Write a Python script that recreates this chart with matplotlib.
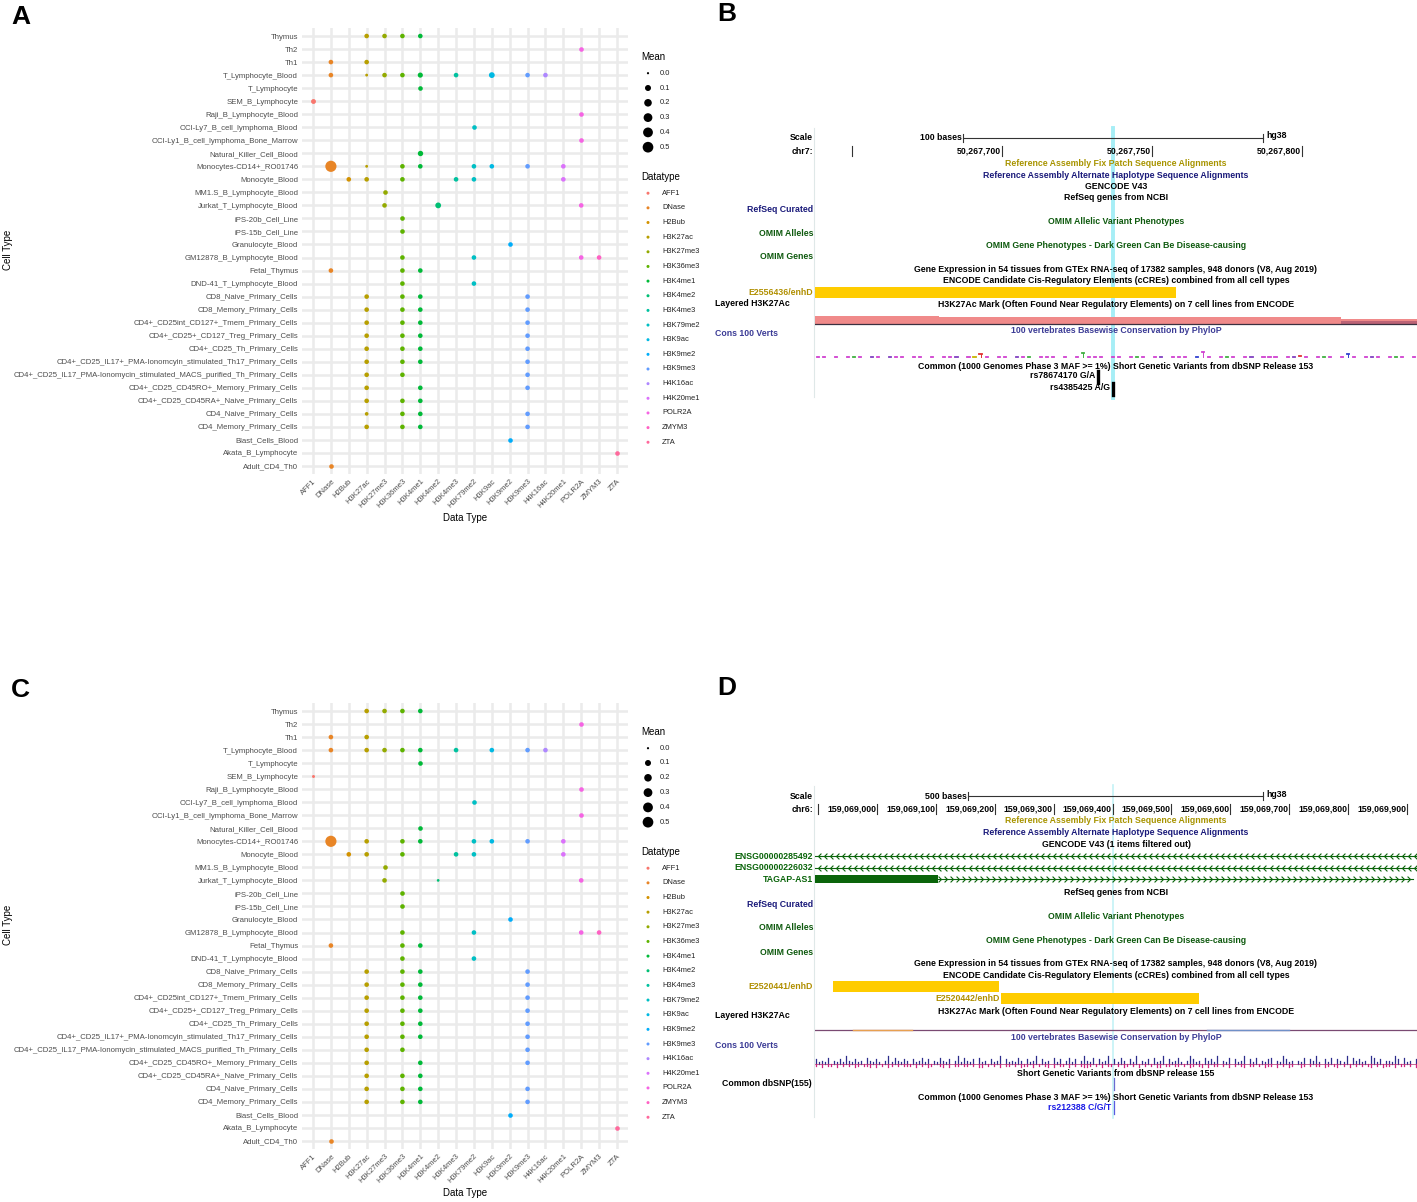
import numpy as np
import matplotlib.pyplot as plt
from matplotlib.path import Path

W, H = 1417, 1202
plt.rcParams['font.family'] = ['Liberation Sans', 'DejaVu Sans']

# ---------------- dot plot data (panels A and C) ----------------
data_types = ["AFF1", "DNase", "H2Bub", "H3K27ac", "H3K27me3", "H3K36me3", "H3K4me1",
              "H3K4me2", "H3K4me3", "H3K79me2", "H3K9ac", "H3K9me2", "H3K9me3",
              "H4K16ac", "H4K20me1", "POLR2A", "ZMYM3", "ZTA"]

cell_types = ["Thymus", "Th2", "Th1", "T_Lymphocyte_Blood", "T_Lymphocyte", "SEM_B_Lymphocyte",
              "Raji_B_Lymphocyte_Blood", "OCI-Ly7_B_cell_lymphoma_Blood",
              "OCI-Ly1_B_cell_lymphoma_Bone_Marrow", "Natural_Killer_Cell_Blood",
              "Monocytes-CD14+_RO01746", "Monocyte_Blood", "MM1.S_B_Lymphocyte_Blood",
              "Jurkat_T_Lymphocyte_Blood", "iPS-20b_Cell_Line", "iPS-15b_Cell_Line",
              "Granulocyte_Blood", "GM12878_B_Lymphocyte_Blood", "Fetal_Thymus",
              "DND-41_T_Lymphocyte_Blood", "CD8_Naive_Primary_Cells", "CD8_Memory_Primary_Cells",
              "CD4+_CD25int_CD127+_Tmem_Primary_Cells", "CD4+_CD25+_CD127_Treg_Primary_Cells",
              "CD4+_CD25_Th_Primary_Cells",
              "CD4+_CD25_IL17+_PMA-Ionomcyin_stimulated_Th17_Primary_Cells",
              "CD4+_CD25_IL17_PMA-Ionomycin_stimulated_MACS_purified_Th_Primary_Cells",
              "CD4+_CD25_CD45RO+_Memory_Primary_Cells", "CD4+_CD25_CD45RA+_Naive_Primary_Cells",
              "CD4_Naive_Primary_Cells", "CD4_Memory_Primary_Cells", "Blast_Cells_Blood",
              "Akata_B_Lymphocyte", "Adult_CD4_Th0"]

row_hits = [
    ["H3K27ac", "H3K27me3", "H3K36me3", "H3K4me1"],
    ["POLR2A"],
    ["DNase", "H3K27ac"],
    ["DNase", "H3K27ac", "H3K27me3", "H3K36me3", "H3K4me1", "H3K4me3", "H3K9ac", "H3K9me3", "H4K16ac"],
    ["H3K4me1"],
    ["AFF1"],
    ["POLR2A"],
    ["H3K79me2"],
    ["POLR2A"],
    ["H3K4me1"],
    ["DNase", "H3K27ac", "H3K36me3", "H3K4me1", "H3K79me2", "H3K9ac", "H3K9me3", "H4K20me1"],
    ["H2Bub", "H3K27ac", "H3K36me3", "H3K4me3", "H3K79me2", "H4K20me1"],
    ["H3K27me3"],
    ["H3K27me3", "H3K4me2", "POLR2A"],
    ["H3K36me3"],
    ["H3K36me3"],
    ["H3K9me2"],
    ["H3K36me3", "H3K79me2", "POLR2A", "ZMYM3"],
    ["DNase", "H3K36me3", "H3K4me1"],
    ["H3K36me3", "H3K79me2"],
    ["H3K27ac", "H3K36me3", "H3K4me1", "H3K9me3"],
    ["H3K27ac", "H3K36me3", "H3K4me1", "H3K9me3"],
    ["H3K27ac", "H3K36me3", "H3K4me1", "H3K9me3"],
    ["H3K27ac", "H3K36me3", "H3K4me1", "H3K9me3"],
    ["H3K27ac", "H3K36me3", "H3K4me1", "H3K9me3"],
    ["H3K27ac", "H3K36me3", "H3K4me1", "H3K9me3"],
    ["H3K27ac", "H3K36me3", "H3K9me3"],
    ["H3K27ac", "H3K4me1", "H3K9me3"],
    ["H3K27ac", "H3K36me3", "H3K4me1"],
    ["H3K27ac", "H3K36me3", "H3K4me1", "H3K9me3"],
    ["H3K27ac", "H3K36me3", "H3K4me1", "H3K9me3"],
    ["H3K9me2"],
    ["ZTA"],
    ["DNase"],
]

mean_a = [
    [.04, .04, .04, .04], [.04], [.04, .04],
    [.04, .003, .04, .04, .06, .04, .09, .04, .04],
    [.04], [.05], [.04], [.04], [.04], [.07],
    [.56, .003, .04, .04, .04, .04, .04, .04],
    [.04, .04, .04, .04, .04, .04],
    [.04], [.04, .09, .04], [.04], [.04], [.04], [.04, .04, .04, .04],
    [.04, .04, .04], [.04, .04],
    [.04, .04, .04, .04], [.04, .04, .04, .04], [.04, .04, .04, .04], [.04, .04, .04, .04],
    [.04, .04, .04, .04], [.04, .04, .04, .04], [.04, .04, .04], [.04, .04, .04],
    [.04, .04, .04], [.015, .04, .04, .04], [.04, .04, .04, .04],
    [.04], [.04], [.04],
]

mean_c = [
    [.04, .04, .04, .04], [.04], [.04, .04],
    [.04, .04, .04, .04, .04, .04, .04, .04, .04],
    [.04], [.004], [.04], [.04], [.04], [.04],
    [.56, .04, .04, .04, .04, .04, .04, .04],
    [.04, .04, .04, .04, .04, .04],
    [.04], [.04, .002, .04], [.04], [.04], [.04], [.04, .04, .04, .04],
    [.04, .04, .04], [.04, .04],
    [.04, .04, .04, .04], [.04, .04, .04, .04], [.04, .04, .04, .04], [.04, .04, .04, .04],
    [.04, .04, .04, .04], [.04, .04, .04, .04], [.04, .04, .04], [.04, .04, .04],
    [.04, .04, .04], [.04, .04, .04, .04], [.04, .04, .04, .04],
    [.04], [.04], [.04],
]

mean_breaks = [0.0, 0.1, 0.2, 0.3, 0.4, 0.5]

# ---------------- genome browser data (panels B and D) ----------------
b_view = (50267637.7, 50267838.3)
b_ticks = [50267650, 50267700, 50267750, 50267800]
b_tick_labels = ["", "50,267,700", "50,267,750", "50,267,800"]
b_scale = (50267687, 50267787)
b_highlight = 50267737
b_ccre_names = ["E2556436/enhD"]
b_ccre_start = [50267600]
b_ccre_end = [50267758]
b_h3k27ac_edges = [50267637.7, 50267679, 50267813, 50267838.3]
b_h3k27ac_level = [8, 6.5, 5]
b_snp_names = ["rs78674170 G/A", "rs4385425 A/G"]
b_snp_pos = [50267732, 50267737]
b_phylo_h = ("1101011101" "1011101101" "0111011310" "1101110111" "0101411101"
             "1011101101" "1101510111" "0110111011" "2101110131" "0111011101")
b_phylo_c = ("mmpmmmgmmp" "mmpmmbmmmm" "mmmpmmyrmm" "mmmpmgmmmm" "pmmmgmmmpm"
             "mmmgmmmpmm" "mmmbmmmmgm" "mmpmmmmmmp" "rmmmgmmmbm" "mmpmmmgmmm")

d_view = (159068894.7, 159069917.0)
d_ticks = [159068900, 159069000, 159069100, 159069200, 159069300, 159069400,
           159069500, 159069600, 159069700, 159069800, 159069900]
d_tick_labels = ["", "159,069,000", "159,069,100", "159,069,200", "159,069,300", "159,069,400",
                 "159,069,500", "159,069,600", "159,069,700", "159,069,800", "159,069,900"]
d_scale = (159069155, 159069655)
d_highlight = 159069400
d_gene_names = ["ENSG00000285492", "ENSG00000226032", "TAGAP-AS1"]
d_gene_strand = ["-", "-", "+"]
d_gene_end = [159069917, 159069917, 159069910]
d_gene_thick_end = [None, None, 159069103]
d_ccre_names = ["E2520441/enhD", "E2520442/enhD"]
d_ccre_start = [159068926, 159069210]
d_ccre_end = [159069207, 159069547]
d_snp_names = ["rs212388 C/G/T"]
d_snp_pos = [159069402]
d_phylo_up = ("3121402131" "5213120421" "3102514213" "2031241302" "1421302514"
              "2130412031" "2503121420" "3125031204" "1302413025" "2140312503"
              "1420315021" "3041250312" "4102531204" "2315021403" "1250314021"
              "3402153120" "2140325103" "1403215042" "3120541302" "2153041203")
d_phylo_dn = ("1020110201" "0102101120" "2010210101" "1102010210" "0120201101"
              "1010220101" "0201101021" "1020101202" "0110201012" "2101020110"
              "1021010201" "0102201101" "1010210120" "2011010201" "0120110102"
              "1102010210" "0210101102" "1012010201" "0101201021" "1020110102")


def hue_pal(n, l=65, c=100):
    out = []
    xn, yn, zn = 0.95047, 1.0, 1.08883
    un = 4 * xn / (xn + 15 * yn + 3 * zn)
    vn = 9 * yn / (xn + 15 * yn + 3 * zn)
    m = np.array([[3.2406, -1.5372, -0.4986], [-0.9689, 1.8758, 0.0415], [0.0557, -0.2040, 1.0570]])
    for h in np.linspace(15, 375, n + 1)[:-1]:
        hr = np.radians(h)
        u, v = c * np.cos(hr), c * np.sin(hr)
        y = ((l + 16) / 116) ** 3
        up, vp = u / (13 * l) + un, v / (13 * l) + vn
        x = y * 9 * up / (4 * vp)
        z = y * (12 - 3 * up - 20 * vp) / (4 * vp)
        rgb = m @ np.array([x, y, z])
        rgb = np.where(rgb <= 0.0031308, 12.92 * rgb, 1.055 * np.abs(rgb) ** (1 / 2.4) - 0.055)
        out.append(tuple(np.clip(rgb, 0, 1)))
    return out


pal = hue_pal(len(data_types))


def dot_area(m):
    d = 2.2 + 12 * np.sqrt(m)
    return (d * 0.72) ** 2


def px_rect(left, top, right, bottom):
    return [left / W, 1 - bottom / H, (right - left) / W, (bottom - top) / H]


fig = plt.figure(figsize=(W / 100, H / 100), dpi=100)
ov = fig.add_axes([0, 0, 1, 1])
ov.set_xlim(0, W)
ov.set_ylim(H, 0)
ov.axis('off')

for lab, x, y in [("A", 11, 17), ("B", 717, 14), ("C", 11, 690), ("D", 717, 688)]:
    ov.text(x, y, lab, fontsize=19, fontweight='bold', ha='left', va='center')


def dot_panel(top, means):
    bottom = top + 445.6
    ax = fig.add_axes(px_rect(302.3, top, 627.7, bottom))
    for i, (hits, ms) in enumerate(zip(row_hits, means)):
        xs = [data_types.index(h) for h in hits]
        ax.scatter(xs, [i] * len(xs), s=[dot_area(v) for v in ms],
                   c=[pal[x] for x in xs], linewidths=0, zorder=3)
    ax.set_xlim(-0.6, len(data_types) - 0.4)
    ax.set_ylim(len(cell_types) - 0.4, -0.6)
    ax.set_xticks(range(len(data_types)))
    ax.set_xticklabels(data_types, rotation=45, ha='right', va='top', rotation_mode='anchor',
                       fontsize=5.5, color='#4d4d4d')
    ax.set_yticks(range(len(cell_types)))
    ax.set_yticklabels(cell_types, fontsize=5.55, color='#4d4d4d')
    ax.tick_params(length=0, pad=3)
    ax.grid(True, color='#ebebeb', lw=1.8)
    ax.set_axisbelow(True)
    for s in ax.spines.values():
        s.set_visible(False)
    ov.text(465, top + 490, "Data Type", fontsize=7, ha='center', va='center')
    ov.text(8, top + 222, "Cell Type", fontsize=7, rotation=90, ha='center', va='center')

    # legends
    ov.text(641, top + 29, "Mean", fontsize=7, ha='left', va='center')
    ys = [top + 45 + 14.8 * i for i in range(len(mean_breaks))]
    ov.scatter([648] * len(ys), ys, s=[dot_area(v) for v in mean_breaks], c='black', linewidths=0)
    for y, v in zip(ys, mean_breaks):
        ov.text(660, y, f"{v:.1f}", fontsize=5.4, color='#222222', ha='left', va='center')
    ov.text(641, top + 149, "Datatype", fontsize=7, ha='left', va='center')
    ys = [top + 165 + 14.65 * i for i in range(len(data_types))]
    ov.scatter([648] * len(ys), ys, s=(3 * 0.72) ** 2, c=pal, linewidths=0)
    for y, name in zip(ys, data_types):
        ov.text(662, y, name, fontsize=5.4, color='#222222', ha='left', va='center')


dot_panel(28.2, mean_a)
dot_panel(703.2, mean_c)

# ---------------- genome browser panels ----------------
FS = 6.3
OLIVE, NAVY, GREEN, SLATE = '#a89400', '#1a1a7a', '#0f5a0f', '#3c3c96'


def browser(top, bottom, view):
    ax = fig.add_axes(px_rect(815, top, 1417, bottom))
    ax.set_xlim(*view)
    ax.set_ylim(bottom, top)
    ax.axis('off')
    ov.plot([814, 814], [top + 3, bottom - 3], color='#dfe8e8', lw=0.8)
    return ax


def ctext(ax, y, s, color='black'):
    ax.text(0.5, y, s, transform=ax.get_yaxis_transform(), ha='center', va='center',
            fontsize=FS, fontweight='bold', color=color)


def ltext(ax, y, s, color='black', left=None):
    if left is None:
        ax.text(-0.0033, y, s, transform=ax.get_yaxis_transform(), ha='right', va='center',
                fontsize=FS, fontweight='bold', color=color)
    else:
        ax.text((left - 815) / 602, y, s, transform=ax.get_yaxis_transform(), ha='left',
                va='center', fontsize=FS, fontweight='bold', color=color)


def ruler(ax, y0, scale, ticks, labels, chrom, hl, hl_top, hl_bottom, hl_w, hl_c):
    ax.plot([hl, hl], [hl_top, hl_bottom], color=hl_c, lw=hl_w, zorder=0)
    ltext(ax, y0, "Scale")
    ltext(ax, y0 + 13, chrom)
    ax.plot(scale, [y0, y0], color='#333333', lw=0.8)
    for s in scale:
        ax.plot([s, s], [y0 - 4, y0 + 4], color='#333333', lw=0.8)
    ax.annotate(f"{(scale[1] - scale[0])} bases", (scale[0], y0), xytext=(-1, 0),
                textcoords='offset points', ha='right', va='center', fontsize=FS, fontweight='bold')
    ax.annotate("hg38", (scale[1], y0 - 2), xytext=(2.5, 0), textcoords='offset points',
                ha='left', va='center', fontsize=FS, fontweight='bold')
    for t, lab in zip(ticks, labels):
        ax.plot([t, t], [y0 + 8, y0 + 18], color='#333333', lw=0.8)
        if lab:
            ax.annotate(lab, (t, y0 + 13), xytext=(-0.5, 0), textcoords='offset points',
                        ha='right', va='center', fontsize=FS, fontweight='bold')


def chevrons(ax, y, x0, x1, direction, color):
    ax.plot([x0, x1], [y, y], color=color, lw=0.8)
    step = (ax.get_xlim()[1] - ax.get_xlim()[0]) / 100
    if direction == '-':
        mk = Path([(1, 1), (0, 0), (1, -1)], [Path.MOVETO, Path.LINETO, Path.LINETO])
    else:
        mk = Path([(-1, 1), (0, 0), (-1, -1)], [Path.MOVETO, Path.LINETO, Path.LINETO])
    xs = np.arange(x0 + step / 2, x1, step)
    ax.plot(xs, [y] * len(xs), ls='none', marker=mk, markersize=4.2, mfc='none',
            mec=color, mew=0.8)


# ----- panel B -----
axb = browser(125, 400, b_view)
ruler(axb, 138, b_scale, b_ticks, b_tick_labels, "chr7:", b_highlight, 128, 398, 2.8, '#a6eef6')
ctext(axb, 163, "Reference Assembly Fix Patch Sequence Alignments", OLIVE)
ctext(axb, 175, "Reference Assembly Alternate Haplotype Sequence Alignments", NAVY)
ctext(axb, 187, "GENCODE V43")
ctext(axb, 198, "RefSeq genes from NCBI")
ltext(axb, 210, "RefSeq Curated", NAVY)
ctext(axb, 222, "OMIM Allelic Variant Phenotypes", GREEN)
ltext(axb, 234, "OMIM Alleles", GREEN)
ctext(axb, 246, "OMIM Gene Phenotypes - Dark Green Can Be Disease-causing", GREEN)
ltext(axb, 257, "OMIM Genes", GREEN)
ctext(axb, 270, "Gene Expression in 54 tissues from GTEx RNA-seq of 17382 samples, 948 donors (V8, Aug 2019)")
ctext(axb, 281, "ENCODE Candidate Cis-Regulatory Elements (cCREs) combined from all cell types")
for name, s, e in zip(b_ccre_names, b_ccre_start, b_ccre_end):
    axb.fill_between([s, e], 287, 298, color='#ffcc00', lw=0)
    if s <= b_view[0]:
        ltext(axb, 293, name, '#b08f00')
    else:
        axb.annotate(name, (s, 293), xytext=(-1, 0), textcoords='offset points', ha='right',
                     va='center', fontsize=FS, fontweight='bold', color='#b08f00')
ltext(axb, 304, "Layered H3K27Ac", left=715)
ctext(axb, 305, "H3K27Ac Mark (Often Found Near Regulatory Elements) on 7 cell lines from ENCODE")
axb.stairs([324 - v for v in b_h3k27ac_level], b_h3k27ac_edges, baseline=324, fill=True,
           color='#f08a8a', lw=0)
axb.plot(b_view, [324, 324], color='#3a3040', lw=0.9)
axb.fill_between([50267813, b_view[1]], 321, 324, color='#9a4a6a', lw=0, alpha=0.6)
ctext(axb, 331, "100 vertebrates Basewise Conservation by PhyloP", SLATE)
ltext(axb, 334, "Cons 100 Verts", SLATE, left=715)
pcol = {'m': '#d040d0', 'p': '#8040c0', 'g': '#40b040', 'b': '#3040d0', 'r': '#e03030', 'y': '#c8b400'}
ppos = np.linspace(b_view[0] + 1, b_view[1] - 1, len(b_phylo_h))
for x, h, c in zip(ppos, b_phylo_h, b_phylo_c):
    if h != '0':
        yv = 357 - 1.3 * (int(h) - 1)
        axb.plot([x - 0.35, x + 0.35], [yv, yv], color=pcol[c], lw=1.3)
        if int(h) > 2:
            axb.plot([x, x], [357, yv], color=pcol[c], lw=0.7)
ctext(axb, 367, "Common (1000 Genomes Phase 3 MAF >= 1%) Short Genetic Variants from dbSNP Release 153")
for i, (name, p) in enumerate(zip(b_snp_names, b_snp_pos)):
    yc = 377 + 12 * i
    axb.plot([p, p], [yc - 5.5, yc + 6], color='black', lw=2.4)
    axb.annotate(name, (p, yc - 1), xytext=(-2, 0), textcoords='offset points', ha='right',
                 va='center', fontsize=FS, fontweight='bold')

# ----- panel D -----
axd = browser(783, 1120, d_view)
ruler(axd, 796, d_scale, d_ticks, d_tick_labels, "chr6:", d_highlight, 785, 1118, 1.2, '#c4f2f6')
ctext(axd, 820, "Reference Assembly Fix Patch Sequence Alignments", OLIVE)
ctext(axd, 832, "Reference Assembly Alternate Haplotype Sequence Alignments", NAVY)
ctext(axd, 844, "GENCODE V43 (1 items filtered out)")
for i, (name, strand, e, te) in enumerate(zip(d_gene_names, d_gene_strand, d_gene_end, d_gene_thick_end)):
    yg = 856 + 11.7 * i
    ltext(axd, yg, name, '#0a640a')
    if te is None:
        chevrons(axd, yg, d_view[0], e, strand, '#0a640a')
    else:
        axd.fill_between([d_view[0], te], yg - 4, yg + 4, color='#0a640a', lw=0)
        chevrons(axd, yg, te, e, strand, '#0a640a')
ctext(axd, 892, "RefSeq genes from NCBI")
ltext(axd, 904, "RefSeq Curated", NAVY)
ctext(axd, 916, "OMIM Allelic Variant Phenotypes", GREEN)
ltext(axd, 927, "OMIM Alleles", GREEN)
ctext(axd, 940, "OMIM Gene Phenotypes - Dark Green Can Be Disease-causing", GREEN)
ltext(axd, 952, "OMIM Genes", GREEN)
ctext(axd, 963, "Gene Expression in 54 tissues from GTEx RNA-seq of 17382 samples, 948 donors (V8, Aug 2019)")
ctext(axd, 975, "ENCODE Candidate Cis-Regulatory Elements (cCREs) combined from all cell types")
for i, (name, s, e) in enumerate(zip(d_ccre_names, d_ccre_start, d_ccre_end)):
    yc = 986.5 + 11.5 * i
    axd.fill_between([s, e], yc - 5.5, yc + 5.5, color='#ffcc00', lw=0)
    if i == 0:
        ltext(axd, yc, name, '#b08f00')
    else:
        axd.annotate(name, (s, yc), xytext=(-1, 0), textcoords='offset points', ha='right',
                     va='center', fontsize=FS, fontweight='bold', color='#b08f00')
ltext(axd, 1015, "Layered H3K27Ac", left=715)
ctext(axd, 1011, "H3K27Ac Mark (Often Found Near Regulatory Elements) on 7 cell lines from ENCODE")
axd.plot(d_view, [1030, 1030], color='#7a4a72', lw=0.9)
axd.plot([159068960, 159069060], [1029.5, 1029.5], color='#e8a050', lw=1.0)
axd.plot([159069560, 159069700], [1029.5, 1029.5], color='#7090c8', lw=1.0)
ctext(axd, 1037, "100 vertebrates Basewise Conservation by PhyloP", SLATE)
ltext(axd, 1046, "Cons 100 Verts", SLATE, left=715)
ppos = np.linspace(d_view[0] + 2, d_view[1] - 2, len(d_phylo_up))
for x, u, dn in zip(ppos, d_phylo_up, d_phylo_dn):
    if u != '0':
        axd.plot([x, x], [1064, 1064 - 1.6 * int(u)], color='#2c2c8c', lw=0.9)
    if dn != '0':
        axd.plot([x, x], [1064, 1064 + 1.6 * int(dn)], color='#d02080', lw=0.9)
axd.plot(d_view, [1064, 1064], color='#b03070', lw=0.5)
ctext(axd, 1073, "Short Genetic Variants from dbSNP release 155")
ltext(axd, 1084, "Common dbSNP(155)", left=722)
axd.plot([d_snp_pos[0], d_snp_pos[0]], [1078, 1090], color='#6a6ad0', lw=0.9)
ctext(axd, 1097, "Common (1000 Genomes Phase 3 MAF >= 1%) Short Genetic Variants from dbSNP Release 153")
for name, p in zip(d_snp_names, d_snp_pos):
    axd.plot([p, p], [1101, 1114], color='#5a5ae0', lw=0.9)
    axd.annotate(name, (p, 1108), xytext=(-2, 0), textcoords='offset points', ha='right',
                 va='center', fontsize=FS, fontweight='bold', color='#1a1ae6')

fig.savefig('out.png', dpi=100)
